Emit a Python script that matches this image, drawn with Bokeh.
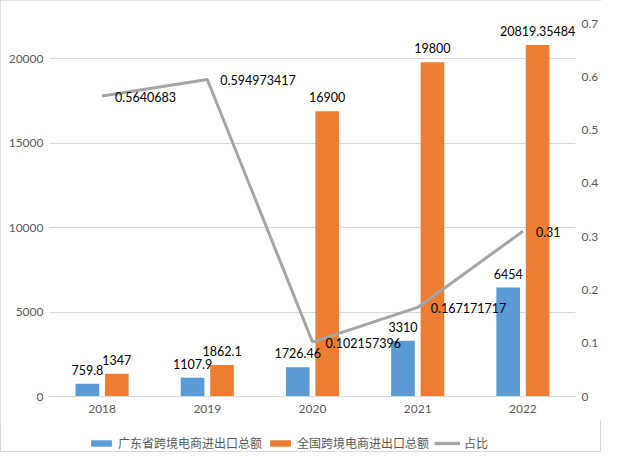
from bokeh.plotting import figure
from bokeh.layouts import column
from bokeh.models import (ColumnDataSource, Range1d, LinearAxis, FixedTicker,
                          Legend, LegendItem, FactorRange)
from bokeh.transform import dodge
from bokeh.core.properties import value
from bokeh.embed import file_html
from bokeh.resources import INLINE

years = ["2018", "2019", "2020", "2021", "2022"]
guangdong = [759.8, 1107.9, 1726.46, 3310, 6454]
national = [1347, 1862.1, 16900, 19800, 20819.35484]
share = [0.5640683, 0.594973417, 0.102157396, 0.167171717, 0.31]
guangdong_labels = ["759.8", "1107.9", "1726.46", "3310", "6454"]
national_labels = ["1347", "1862.1", "16900", "19800", "20819.35484"]
share_labels = ["0.5640683", "0.594973417", "0.102157396", "0.167171717", "0.31"]
left_ticks = [0, 5000, 10000, 15000, 20000]
right_ticks = [0, 0.1, 0.2, 0.3, 0.4, 0.5, 0.6, 0.7]
right_tick_labels = ["0", "0.1", "0.2", "0.3", "0.4", "0.5", "0.6", "0.7"]
series_names = ["广东省跨境电商进出口总额", "全国跨境电商进出口总额", "占比"]

BLUE = "#5b9bd5"
ORANGE = "#ed7d31"
GRAY = "#a5a5a5"
NUM_FONT = "Lato"
CJK_FONT = "Noto Sans CJK SC"

src = ColumnDataSource(dict(
    year=years, gd=guangdong, nat=national, share=share,
    gd_lab=guangdong_labels, nat_lab=national_labels, share_lab=share_labels,
))

p = figure(
    x_range=FactorRange(*years, range_padding=0),
    y_range=Range1d(0, 22100),
    width=601, height=420,
    min_border_left=49, min_border_right=22, min_border_top=23, min_border_bottom=24,
    output_backend="svg", toolbar_location=None,
)
p.extra_y_ranges = {"right": Range1d(0, 0.7)}
p.outline_line_color = None
p.background_fill_color = "white"
p.border_fill_color = "white"

bw = 0.225
off = 0.14
r_gd = p.vbar(x=dodge("year", -off, range=p.x_range), top="gd", width=bw,
              source=src, fill_color=BLUE, line_color=None)
r_nat = p.vbar(x=dodge("year", off, range=p.x_range), top="nat", width=bw,
               source=src, fill_color=ORANGE, line_color=None)
r_line = p.line(x="year", y="share", source=src, y_range_name="right",
                line_color=GRAY, line_width=3)

# data labels
p.text(x=dodge("year", -off, range=p.x_range), y="gd", text="gd_lab", source=src,
       text_align="center", text_baseline="middle", y_offset=-14,
       text_font=value(NUM_FONT), text_font_size="12.5px", text_color="#000000")
p.text(x=dodge("year", off, range=p.x_range), y="nat", text="nat_lab", source=src,
       text_align="center", text_baseline="middle", y_offset=-14,
       text_font=value(NUM_FONT), text_font_size="12.5px", text_color="#000000")
p.text(x="year", y="share", text="share_lab", source=src, y_range_name="right",
       text_align="left", text_baseline="middle", x_offset=13, y_offset=1,
       text_font=value(NUM_FONT), text_font_size="12.5px", text_color="#000000")

# grid
p.xgrid.grid_line_color = None
p.ygrid.grid_line_color = "#d9d9d9"
p.ygrid.ticker = FixedTicker(ticks=left_ticks)

# left axis
ly = p.yaxis[0]
ly.ticker = FixedTicker(ticks=left_ticks)
ly.axis_line_color = None
ly.major_tick_line_color = None
ly.minor_tick_line_color = None
ly.major_tick_out = 0
ly.major_label_standoff = 6
ly.major_label_text_color = "#595959"
ly.major_label_text_font = NUM_FONT
ly.major_label_text_font_size = "12px"

# right axis
ry = LinearAxis(y_range_name="right", ticker=FixedTicker(ticks=right_ticks))
ry.major_label_overrides = {t: l for t, l in zip(right_ticks, right_tick_labels)}
ry.axis_line_color = None
ry.major_tick_line_color = None
ry.minor_tick_line_color = None
ry.major_tick_out = 0
ry.major_label_standoff = 6
ry.major_label_text_color = "#595959"
ry.major_label_text_font = NUM_FONT
ry.major_label_text_font_size = "12px"
p.add_layout(ry, "right")

# x axis
xa = p.xaxis[0]
xa.axis_line_color = "#d9d9d9"
xa.major_tick_line_color = None
xa.minor_tick_line_color = None
xa.major_tick_out = 0
xa.major_label_standoff = 8
xa.major_label_text_color = "#595959"
xa.major_label_text_font = NUM_FONT
xa.major_label_text_font_size = "12px"

# legend strip (proxy renderers sit outside the visible range)
lf = figure(width=601, height=32, x_range=Range1d(0, 1), y_range=Range1d(0, 1),
            x_axis_type=None, y_axis_type=None, min_border=0,
            output_backend="svg", toolbar_location=None)
lf.outline_line_color = None
lf.background_fill_color = None
lf.border_fill_color = None
lf.grid.visible = False
lg1 = lf.vbar(x=[-10], top=[-5], bottom=[-6], width=0.1, fill_color=BLUE, line_color=None)
lg2 = lf.vbar(x=[-10], top=[-5], bottom=[-6], width=0.1, fill_color=ORANGE, line_color=None)
lg3 = lf.line(x=[-10, -9], y=[-5, -5], line_color=GRAY, line_width=3.5)

legend = Legend(
    items=[LegendItem(label=series_names[0], renderers=[lg1]),
           LegendItem(label=series_names[1], renderers=[lg2]),
           LegendItem(label=series_names[2], renderers=[lg3])],
    orientation="horizontal", location=(39, 1),
    border_line_color=None, background_fill_alpha=0,
    label_text_font=CJK_FONT, label_text_font_size="12px", label_text_color="#595959",
    glyph_width=26, glyph_height=8, label_height=14, label_standoff=4,
    spacing=5, padding=0, margin=0,
)
lf.add_layout(legend, "center")

layout = column(p, lf, spacing=0)
layout.styles = {"outline": "1px solid #d9d9d9", "outline-offset": "-1px"}
open("out.html", "w").write(file_html(layout, INLINE))
